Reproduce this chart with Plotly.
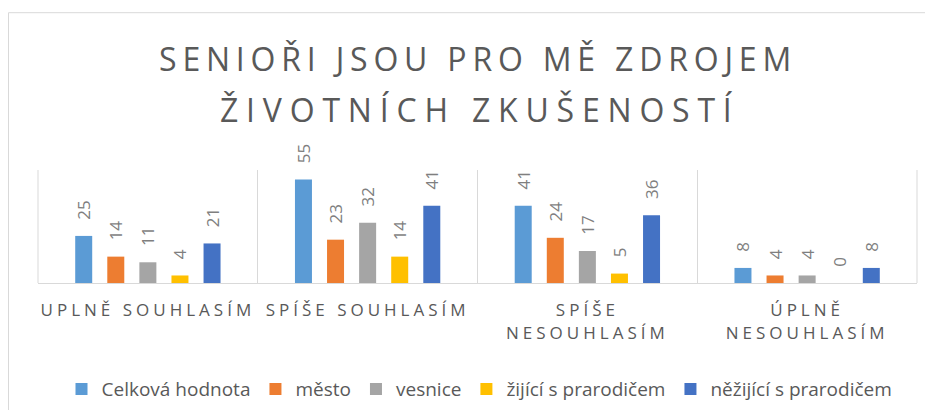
import plotly.graph_objects as go

categories = ["UPLNĚ SOUHLASÍM", "SPÍŠE SOUHLASÍM", "SPÍŠE<br>NESOUHLASÍM", "ÚPLNĚ<br>NESOUHLASÍM"]
series_names = ["Celková hodnota", "město", "vesnice", "žijící s prarodičem", "něžijící s prarodičem"]
celkova = [25, 55, 41, 8]
mesto = [14, 23, 24, 4]
vesnice = [11, 32, 17, 4]
zijici = [4, 14, 5, 0]
nezijici = [21, 41, 36, 8]
colors = ["#5B9BD5", "#ED7D31", "#A5A5A5", "#FFC000", "#4472C4"]
title_lines = ["SENIOŘI JSOU PRO MĚ ZDROJEM", "ŽIVOTNÍCH ZKUŠENOSTÍ"]

FONT = "Open Sans, Noto Sans, sans-serif"

# the page body has an 8px margin: the figure is drawn in page coordinates minus 8
W, H = 917, 402
OFF = 8
PL, PT, PR, PB = 38 - OFF, 170 - OFF, 917 - OFF, 283.5 - OFF
PW, PH = PR - PL, PB - PT


def spaced(text, px):
    return "<br>".join(
        f'<span style="letter-spacing:{px}px">{line}</span>' for line in text.split("<br>")
    )


def py(page_y):
    return (PB - (page_y - OFF)) / PH


def px_(page_x):
    return ((page_x - OFF) - PL) / PW


fig = go.Figure()
for name, vals, col in zip(series_names, [celkova, mesto, vesnice, zijici, nezijici], colors):
    fig.add_trace(go.Bar(
        x=[spaced(c, 4.0) for c in categories],
        y=vals,
        name=name,
        marker=dict(color=col, line=dict(width=0)),
        texttemplate="\u00a0\u00a0\u00a0%{y}",
        textposition="outside",
        textangle=-90,
        constraintext="none",
        cliponaxis=False,
        textfont=dict(family=FONT, size=17, color="#7F7F7F"),
        hoverinfo="skip",
    ))

fig.update_layout(
    width=W, height=H,
    margin=dict(l=PL, r=W - PR, t=PT, b=H - PB, pad=0, autoexpand=False),
    paper_bgcolor="white", plot_bgcolor="white",
    barmode="group", bargap=0.27, bargroupgap=0.47,
    title=dict(
        text=spaced(title_lines[0], 5.8),
        x=(478 - OFF) / W, xanchor="center", xref="container",
        y=1 - (60 - OFF) / H, yanchor="middle", yref="container",
        font=dict(family=FONT, size=32, color="#595959"),
    ),
    annotations=[dict(
        text=spaced(title_lines[1], 7.8), showarrow=False,
        xref="paper", yref="paper", x=px_(480), y=py(109), xanchor="center", yanchor="middle",
        font=dict(family=FONT, size=32, color="#595959"),
    )],
    font=dict(family=FONT, color="#595959"),
    showlegend=True,
    legend=dict(
        orientation="h", x=px_(479.5), xanchor="center", y=py(390), yanchor="middle",
        font=dict(family=FONT, size=19, color="#595959"),
        traceorder="normal", itemclick=False, itemdoubleclick=False,
    ),
    xaxis=dict(
        type="category", tickson="boundaries", showgrid=True, gridcolor="#D9D9D9", gridwidth=1,
        showline=True, linecolor="#D9D9D9", linewidth=1, ticks="", ticklen=0,
        tickangle=0, automargin=False,
        tickfont=dict(family=FONT, size=17, color="#595959"), ticklabelstandoff=12,
        fixedrange=True,
    ),
    yaxis=dict(range=[0, 60], showgrid=False, zeroline=False, showticklabels=False,
               showline=False, fixedrange=True, automargin=False),
    shapes=[
        dict(type="rect", xref="paper", yref="paper",
             x0=(0.5 - PL) / PW, x1=(W + 20 - PL) / PW,
             y0=(PB - (H + 20)) / PH, y1=(PB - 4) / PH,
             line=dict(color="#D9D9D9", width=1), fillcolor="rgba(0,0,0,0)", layer="below"),
        dict(type="line", xref="paper", yref="paper", x0=0, x1=0, y0=0, y1=1,
             line=dict(color="#D9D9D9", width=1), layer="below"),
        dict(type="line", xref="paper", yref="paper", x0=1, x1=1, y0=0, y1=1,
             line=dict(color="#D9D9D9", width=1), layer="below"),
    ],
)

fig.write_html("out.html")
